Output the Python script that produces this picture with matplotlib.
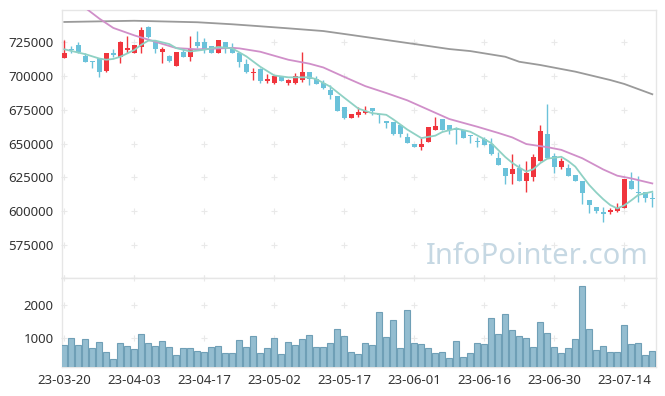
import matplotlib
matplotlib.use('Agg')
import matplotlib.pyplot as plt
import numpy as np

plt.rcParams['font.family'] = ['Noto Sans', 'DejaVu Sans']

tick_labels = ['23-03-20', '23-04-03', '23-04-17', '23-05-02', '23-05-17',
               '23-06-01', '23-06-16', '23-06-30', '23-07-14']
tick_index = [0, 10, 20, 30, 40, 50, 60, 70, 80]

opens = [713400, 720000, 722800, 714700, 711000, 713000, 703800, 717100, 714100, 719100,
         717100, 721500, 735900, 725500, 717400, 714700, 707500, 717400, 713700, 725200,
         724800, 722000, 716600, 725200, 720800, 717100, 708700, 701900, 705100, 696200,
         694500, 699100, 694500, 694500, 696900, 702800, 697900, 694900, 689500, 684900,
         677000, 669100, 671100, 672800, 676000, 672000, 666300, 665700, 663500, 654800,
         649400, 647400, 651300, 660200, 668100, 663700, 661200, 660000, 656300, 651800,
         653300, 649600, 639500, 631700, 627500, 631700, 622500, 625500, 637300, 657000,
         640800, 632900, 631700, 626700, 622300, 608300, 602900, 599600, 599600, 600300,
         602100, 622500, 613900, 614400, 609500]
highs = [726500, 722000, 725000, 716600, 711000, 713400, 717100, 719600, 725500, 729400,
         722800, 735900, 736800, 725500, 721500, 715400, 717600, 720300, 729400, 733100,
         728200, 722000, 726500, 725200, 724500, 717800, 712200, 705600, 705600, 701400,
         699900, 699900, 697700, 702300, 717400, 702800, 700100, 696900, 693200, 684900,
         677000, 672000, 676700, 677700, 676000, 672000, 666300, 665700, 663500, 657500,
         649400, 653800, 662200, 669400, 668100, 663700, 662000, 660000, 656300, 654600,
         654600, 653800, 643500, 631700, 642000, 634600, 637100, 642000, 663700, 679000,
         642800, 639100, 634600, 626700, 622300, 608300, 602900, 603300, 602600, 605800,
         623800, 628700, 626200, 614400, 614400]
lows = [713200, 716900, 716600, 710400, 706000, 699400, 703100, 713700, 709300, 716600,
        717100, 716600, 727700, 716600, 709300, 710000, 707500, 713700, 711200, 720300,
        716600, 716600, 716600, 716600, 716600, 706700, 701900, 696900, 694900, 694500,
        693700, 696200, 693000, 693700, 695700, 693200, 694000, 690000, 682900, 674000,
        668400, 668800, 669800, 671800, 671100, 664900, 661500, 656300, 654600, 650100,
        647200, 645000, 651300, 660200, 659800, 656800, 649400, 653800, 650600, 647600,
        648900, 641500, 634100, 619900, 619900, 622500, 614400, 622500, 637300, 639500,
        628000, 631200, 626200, 622300, 605100, 598400, 598400, 591800, 597700, 599600,
        602100, 616400, 606600, 606600, 602900]
closes = [717100, 719100, 717400, 710400, 710200, 703100, 716600, 715600, 725000, 720600,
          722800, 733900, 728900, 719600, 719800, 711000, 717600, 714100, 719800, 722300,
          719600, 716600, 726500, 720300, 716600, 710400, 702800, 703100, 696400, 697700,
          699900, 696200, 696900, 699700, 702800, 697400, 694000, 690800, 685800, 674200,
          668600, 671800, 673300, 674000, 674000, 670700, 665200, 657000, 657300, 650600,
          647600, 649600, 662200, 662900, 660200, 660000, 659800, 654300, 655500, 651300,
          648900, 642000, 634100, 626200, 631200, 622500, 628400, 640200, 659200, 639500,
          632900, 637100, 626200, 622300, 613600, 604600, 600100, 597700, 601100, 602100,
          623800, 616400, 613200, 609500, 609000]
volumes = [790, 1000, 790, 970, 700, 880, 580, 370, 850, 760,
           670, 1120, 850, 760, 910, 730, 490, 700, 700, 610,
           580, 730, 760, 550, 550, 940, 730, 1060, 550, 700,
           1000, 520, 880, 790, 970, 1090, 730, 730, 850, 1270,
           1060, 580, 520, 850, 790, 1780, 1030, 1540, 700, 1840,
           850, 820, 700, 550, 580, 400, 910, 430, 550, 850,
           820, 1600, 1120, 1720, 1240, 1060, 1000, 730, 1480, 1150,
           730, 550, 700, 970, 2560, 1270, 640, 760, 580, 580,
           1390, 820, 850, 490, 610]

ma_short_idx = [0, 3, 5, 6, 7, 8, 10, 11, 12, 13, 15, 16, 18, 20, 22, 24, 26, 28, 30, 32,
                35, 36, 38, 40, 42, 44, 46, 47, 49, 51, 53, 54, 56, 58, 60, 61, 63, 64, 65, 66,
                67, 68, 69, 71, 72, 73, 74, 75, 76, 77, 78, 79, 80, 81, 82, 84]
ma_short = [719600, 716000, 712800, 711900, 712500, 714100, 719100, 723000, 726000, 726000,
            723500, 720500, 718000, 719300, 721300, 720300, 714400, 706700, 700300, 698900,
            698900, 697500, 692000, 683800, 675800, 672400, 671200, 667800, 660300, 654000,
            655800, 658500, 661100, 658700, 653200, 650300, 640000, 635700, 632200, 629300,
            631000, 635500, 638800, 640200, 637000, 632900, 626000, 619300, 613800, 608800,
            604500, 602000, 604300, 608000, 612000, 614400]
ma_mid_idx = [0, 3, 5, 7, 10, 14, 16, 19, 22, 24, 25, 28, 32, 35, 37, 40, 43, 46, 49, 52,
              55, 59, 62, 64, 66, 69, 71, 74, 77, 79, 81, 84]
ma_mid = [762000, 750200, 742300, 735400, 729900, 723600, 720500, 719600, 720200, 720700,
          720300, 717800, 711900, 709000, 706200, 699200, 692400, 687300, 681900, 675000,
          668100, 662400, 657800, 654500, 649600, 647300, 645300, 639100, 630800, 626200,
          624200, 620500]
ma_long_idx = [0, 10, 19, 24, 27, 32, 37, 41, 46, 51, 55, 58, 63, 65, 68, 73, 78, 80, 84]
ma_long = [739800, 740700, 739600, 738100, 737000, 735100, 733100, 730200, 726500, 722800,
           719800, 718300, 714100, 710400, 708000, 703100, 696900, 694000, 686400]

UP = '#f0353d'
DOWN = '#6bc2da'
GRID = '#e9e9e9'
SPINE = '#e6e6e6'
TEXT = '#333333'

fig = plt.figure(figsize=(6.65, 3.96), dpi=100)
ax = fig.add_axes([62 / 665, 1 - 278 / 396, 594 / 665, 268 / 396])
axv = fig.add_axes([62 / 665, 1 - 367 / 396, 594 / 665, 89 / 396], sharex=ax)

x = np.arange(len(opens))
o = np.array(opens)
c = np.array(closes)
up = c >= o
colors = np.where(up, UP, DOWN)

# candles: wicks then bodies
ax.vlines(x, lows, highs, colors=colors, linewidth=1.0, zorder=3)
bottom = np.minimum(o, c)
height = np.maximum(np.abs(c - o), 900)
ax.bar(x, height, bottom=bottom, width=0.72, color=colors, linewidth=0, zorder=4)

ax.plot(ma_long_idx, ma_long, color='#9a9a9a', linewidth=1.3, zorder=5)
ax.plot(ma_mid_idx, ma_mid, color='#d08fc9', linewidth=1.3, zorder=5)
ax.plot(ma_short_idx, ma_short, color='#8fd1c4', linewidth=1.3, zorder=5)

ax.set_xlim(-0.33, 84.53)
ax.set_ylim(550620, 748650)
price_ticks = [575000, 600000, 625000, 650000, 675000, 700000, 725000]
ax.set_yticks(price_ticks)
ax.set_yticklabels([str(t) for t in price_ticks])

# volume
axv.bar(x, volumes, width=0.9, color='#94bdd0', edgecolor='#6f9fb6', linewidth=0.8, zorder=3)
axv.set_ylim(140, 2810)
axv.set_yticks([1000, 2000])
axv.set_yticklabels(['1000', '2000'])
axv.set_xticks(tick_index)
axv.set_xticklabels(tick_labels)

# faint '+' grid markers at tick intersections
for a, yt in ((ax, price_ticks + [550620]), (axv, [1000, 2000, 2810])):
    gx, gy = np.meshgrid(tick_index, yt)
    a.plot(gx.ravel(), gy.ravel(), '+', color=GRID, markersize=4, markeredgewidth=0.8,
           zorder=1, clip_on=False)

for a in (ax, axv):
    for s in a.spines.values():
        s.set_color(SPINE)
        s.set_linewidth(1.0)
    a.tick_params(length=0, colors=TEXT, labelsize=9.5)
    a.tick_params(axis='y', pad=6)
    a.tick_params(axis='x', pad=5)
    a.set_facecolor('white')
ax.tick_params(axis='x', labelbottom=False)

ax.text(0.987, 0.082, 'InfoPointer.com', transform=ax.transAxes, ha='right', va='center',
        fontsize=21, color='#c6d8e3', zorder=2)

fig.savefig('out.png', dpi=100)
